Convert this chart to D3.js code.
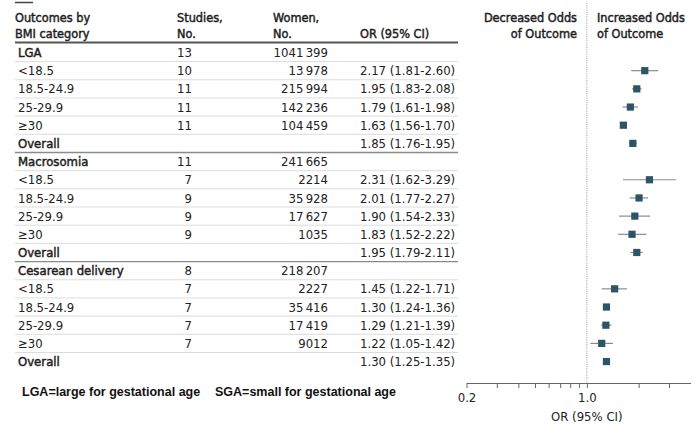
<!DOCTYPE html>
<html>
<head>
<meta charset="utf-8">
<script src="https://cdn.jsdelivr.net/npm/d3@7"></script>
<style>
  html, body { margin: 0; padding: 0; background: #fff; }
  svg { display: block; }
  .tbl { font-family: "DejaVu Sans Condensed", "DejaVu Sans", sans-serif; font-stretch: condensed; font-size: 13px; fill: #222; }
  /* medium weight: regular face thickened with a thin outline */
  .hdr text, .grp { stroke: #1e1e1e; stroke-width: 0.45px; paint-order: stroke; fill: #1e1e1e; }
  .hdr text { font-size: 12.6px; }
  .note { font-family: "Liberation Sans", Arial, sans-serif; font-size: 12.5px; font-weight: 700; fill: #111; }
</style>
</head>
<body>
<svg id="chart" width="699" height="426"></svg>
<script>
// Rows of the forest table, top to bottom
const labels = ["LGA", "<18.5", "18.5-24.9", "25-29.9", "\u226530", "Overall",
                "Macrosomia", "<18.5", "18.5-24.9", "25-29.9", "\u226530", "Overall",
                "Cesarean delivery", "<18.5", "18.5-24.9", "25-29.9", "\u226530", "Overall"];
const rowKinds = ["group", "sub", "sub", "sub", "sub", "overall",
                  "group", "sub", "sub", "sub", "sub", "overall",
                  "group", "sub", "sub", "sub", "sub", "overall"];
const studies = [13, 10, 11, 11, 11, null,
                 11, 7, 9, 9, 9, null,
                 8, 7, 7, 7, 7, null];
const women = [1041399, 13978, 215994, 142236, 104459, null,
               241665, 2214, 35928, 17627, 1035, null,
               218207, 2227, 35416, 17419, 9012, null];
const oddsRatio = [null, 2.17, 1.95, 1.79, 1.63, 1.85,
                   null, 2.31, 2.01, 1.90, 1.83, 1.95,
                   null, 1.45, 1.30, 1.29, 1.22, 1.30];
const ciLow = [null, 1.81, 1.83, 1.61, 1.56, 1.76,
               null, 1.62, 1.77, 1.54, 1.52, 1.79,
               null, 1.22, 1.24, 1.21, 1.05, 1.25];
const ciHigh = [null, 2.60, 2.08, 1.98, 1.70, 1.95,
                null, 3.29, 2.27, 2.33, 2.22, 2.11,
                null, 1.71, 1.36, 1.39, 1.42, 1.35];
const axisTicks = [0.2, 0.3, 0.4, 0.5, 0.6, 0.7, 0.8, 0.9, 1, 2, 3];
const axisTickLabels = { 0.2: "0.2", 1: "1.0" };

const svg = d3.select("#chart");

const tableLeft = 15, tableRight = 458;
const rowY0 = 52.5, rowStep = 18.18;
const rowY = i => rowY0 + i * rowStep;

const fmtWomen = n => {
  if (n == null) return "";
  if (n < 10000) return String(n);
  const s = String(n);
  return s.slice(0, -3) + "\u2009" + s.slice(-3);
};
const fmtOR = i => oddsRatio[i] == null ? "" :
  `${oddsRatio[i].toFixed(2)} (${ciLow[i].toFixed(2)}-${ciHigh[i].toFixed(2)})`;

// small rule at top-left corner
svg.append("line").attr("x1", 15).attr("x2", 33).attr("y1", 2.5).attr("y2", 2.5)
  .attr("stroke", "#444").attr("stroke-width", 1.5);

// Column headers
const head = svg.append("g").attr("class", "tbl hdr");
[["Outcomes by", 15, 21.5], ["BMI category", 15, 37.5],
 ["Studies,", 177, 21.5], ["No.", 177, 37.5],
 ["Women,", 273, 21.5], ["No.", 273, 37.5],
 ["OR (95% CI)", 360, 37.5]].forEach(([t, x, y]) => {
  head.append("text").attr("x", x).attr("y", y).text(t);
});
head.append("text").attr("x", 577).attr("y", 21.5).attr("text-anchor", "end").text("Decreased Odds");
head.append("text").attr("x", 577).attr("y", 37.5).attr("text-anchor", "end").text("of Outcome");
head.append("text").attr("x", 597).attr("y", 21.5).text("Increased Odds");
head.append("text").attr("x", 597).attr("y", 37.5).text("of Outcome");

// Row separators
const rules = svg.append("g");
rules.append("line").attr("x1", tableLeft).attr("x2", tableRight)
  .attr("y1", 42.5).attr("y2", 42.5).attr("stroke", "#555").attr("stroke-width", 1.8);
for (let i = 0; i < labels.length - 1; i++) {
  const y = rowY(i) + rowStep / 2;
  const major = rowKinds[i] === "overall";
  rules.append("line").attr("x1", tableLeft).attr("x2", tableRight)
    .attr("y1", y).attr("y2", y)
    .attr("stroke", major ? "#8a8a8a" : "#dcdcdc")
    .attr("stroke-width", major ? 1.3 : 1);
}

// Table body
const body = svg.append("g").attr("class", "tbl");
labels.forEach((lab, i) => {
  const y = rowY(i) + 4.6;
  const bold = rowKinds[i] !== "sub";
  body.append("text").attr("x", 18).attr("y", y)
    .attr("class", bold ? "grp" : null).text(lab);
  if (studies[i] != null)
    body.append("text").attr("x", 192).attr("y", y).attr("text-anchor", "end").text(studies[i]);
  if (women[i] != null)
    body.append("text").attr("x", 328).attr("y", y).attr("text-anchor", "end").text(fmtWomen(women[i]));
  if (oddsRatio[i] != null)
    body.append("text").attr("x", 360).attr("y", y).text(fmtOR(i));
});

// Forest plot
const x = d3.scaleLog().domain([0.2, 4]).range([466.5, 690.5]);
const axisY = 383;

svg.append("line").attr("x1", x(1)).attr("x2", x(1)).attr("y1", 3).attr("y2", axisY)
  .attr("stroke", "#9a9a9a").attr("stroke-width", 1).attr("stroke-dasharray", "1,1.2");

const plot = svg.append("g");
oddsRatio.forEach((or, i) => {
  if (or == null) return;
  const y = rowY(i);
  plot.append("line").attr("x1", x(ciLow[i])).attr("x2", x(ciHigh[i]))
    .attr("y1", y).attr("y2", y).attr("stroke", "#8c8c8c").attr("stroke-width", 1.2);
  plot.append("rect").attr("x", x(or) - 3.6).attr("y", y - 3.6)
    .attr("width", 7.2).attr("height", 7.2).attr("fill", "#2c5567");
});

const axis = d3.axisBottom(x).tickValues(axisTicks)
  .tickFormat(d => axisTickLabels[d] || "").tickSize(5).tickSizeOuter(0).tickPadding(5);
const ax = svg.append("g").attr("transform", `translate(0,${axisY})`).call(axis);
ax.select(".domain").attr("stroke", "#666");
ax.selectAll(".tick line").attr("stroke", "#666");
ax.selectAll(".tick text").attr("class", "tbl").attr("font-size", null)
  .attr("font-family", null).style("fill", "#222");

svg.append("text").attr("class", "tbl").attr("x", x(1)).attr("y", 421)
  .attr("text-anchor", "middle").text("OR (95% CI)");

// Abbreviation notes
svg.append("text").attr("class", "note").attr("x", 22).attr("y", 396).text("LGA=large for gestational age");
svg.append("text").attr("class", "note").attr("x", 215).attr("y", 396).text("SGA=small for gestational age");
</script>
</body>
</html>
